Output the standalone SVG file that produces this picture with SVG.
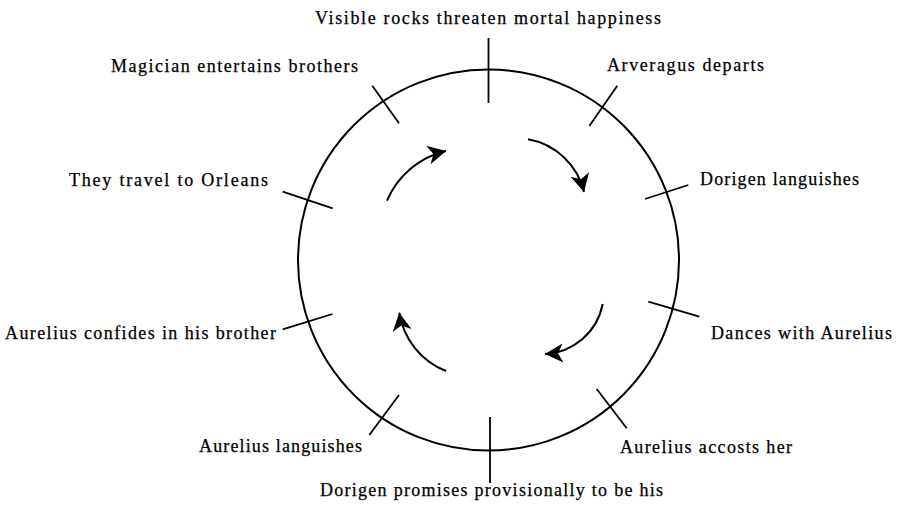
<svg xmlns="http://www.w3.org/2000/svg" width="898" height="505" viewBox="0 0 898 505">
  <style>
    .ring { fill: none; stroke: #000; stroke-width: 2; }
    .tick { stroke: #000; stroke-width: 1.8; fill: none; }
    .flow { fill: none; stroke: #000; stroke-width: 2; marker-end: url(#head); }
    text { font-family: "Liberation Serif", "Times New Roman", serif; font-size: 18px; fill: #000; stroke: #000; stroke-width: 0.25; }
  </style>
  <defs>
    <marker id="head" markerUnits="userSpaceOnUse" viewBox="-19 -11 22 22" refX="0" refY="0" markerWidth="22" markerHeight="22" orient="auto">
      <path d="M0,0 L-18,-9.5 L-13,0 L-18,9.5 Z" fill="#000"/>
    </marker>
  </defs>

  <rect width="898" height="505" fill="#fff"/>

  <!-- the cycle of events -->
  <g id="cycle">
    <circle class="ring" cx="488.5" cy="260" r="190.5"/>
  </g>

  <!-- events: a tick across the ring and its caption -->
  <g id="rocks">
    <line class="tick" x1="488.5" y1="38" x2="488.5" y2="103"/>
    <text x="315" y="24" textLength="346" lengthAdjust="spacing">Visible rocks threaten mortal happiness</text>
  </g>
  <g id="arveragus-departs">
    <line class="tick" x1="617.3" y1="85.7" x2="589.3" y2="126"/>
    <text x="607" y="71" textLength="157" lengthAdjust="spacing">Arveragus departs</text>
  </g>
  <g id="dorigen-languishes">
    <line class="tick" x1="645" y1="199" x2="688.3" y2="185"/>
    <text x="700" y="184.5" textLength="159" lengthAdjust="spacing">Dorigen languishes</text>
  </g>
  <g id="dances">
    <line class="tick" x1="648.3" y1="301.7" x2="699.3" y2="316.7"/>
    <text x="711" y="339" textLength="181" lengthAdjust="spacing">Dances with Aurelius</text>
  </g>
  <g id="accosts">
    <line class="tick" x1="596.7" y1="389" x2="626.7" y2="428.3"/>
    <text x="620" y="452.5" textLength="172" lengthAdjust="spacing">Aurelius accosts her</text>
  </g>
  <g id="promises">
    <line class="tick" x1="490" y1="417" x2="490" y2="483"/>
    <text x="320" y="496" textLength="343" lengthAdjust="spacing">Dorigen promises provisionally to be his</text>
  </g>
  <g id="aurelius-languishes">
    <line class="tick" x1="399" y1="395" x2="369.3" y2="435"/>
    <text x="199" y="452" textLength="163" lengthAdjust="spacing">Aurelius languishes</text>
  </g>
  <g id="confides">
    <line class="tick" x1="332.5" y1="314" x2="282.7" y2="329.3"/>
    <text x="5" y="339" textLength="271" lengthAdjust="spacing">Aurelius confides in his brother</text>
  </g>
  <g id="orleans">
    <line class="tick" x1="282.7" y1="191.7" x2="332.7" y2="208.3"/>
    <text x="69" y="186" textLength="199" lengthAdjust="spacing">They travel to Orleans</text>
  </g>
  <g id="magician">
    <line class="tick" x1="372.3" y1="85.7" x2="399" y2="123.3"/>
    <text x="111" y="72" textLength="247" lengthAdjust="spacing">Magician entertains brothers</text>
  </g>

  <!-- clockwise direction arrows -->
  <g id="connectors">
    <path class="flow" d="M387,200.7 A85,85 0 0 1 446,151"/>
    <path class="flow" d="M528,139.3 A70,70 0 0 1 584,192"/>
    <path class="flow" d="M602.7,304 A62,62 0 0 1 545,354"/>
    <path class="flow" d="M446,371 A75,75 0 0 1 399.3,312.7"/>
  </g>
</svg>
